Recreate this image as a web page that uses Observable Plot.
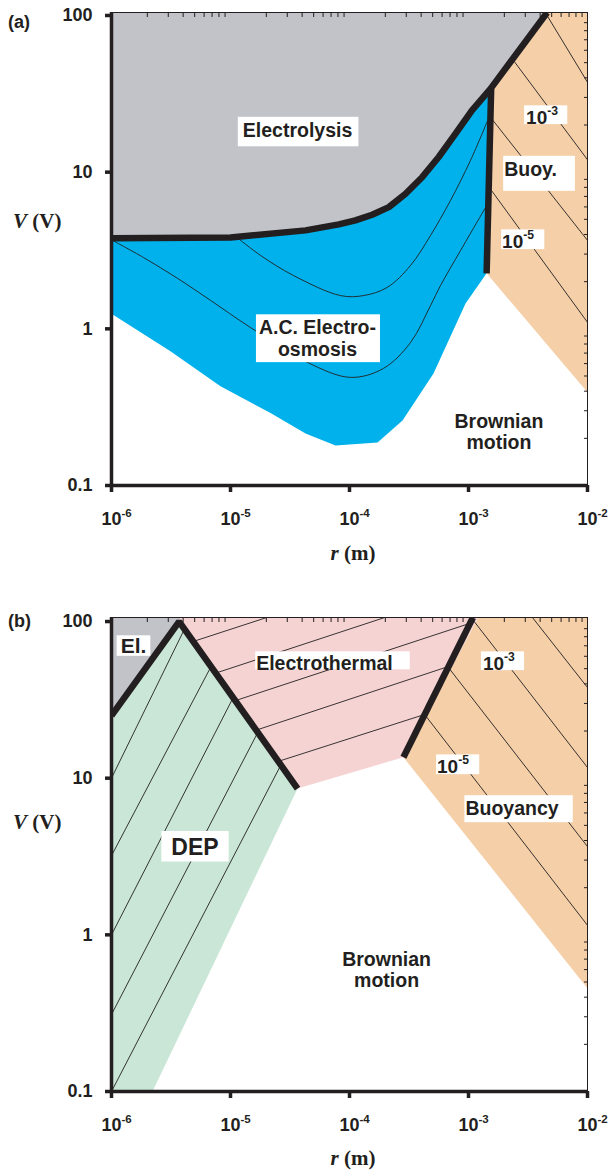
<!DOCTYPE html>
<html><head><meta charset="utf-8">
<script src="https://cdn.jsdelivr.net/npm/d3@7"></script>
<script src="https://cdn.jsdelivr.net/npm/@observablehq/plot@0.6"></script>
<style>
body{margin:0;background:#fff;}
#chart{width:610px;}
#chart svg{display:block;overflow:visible;}
.panel text{font-weight:700;}
</style></head><body><div id="chart"></div>
<script>
// ---------- axes ----------
const xTicks = [1e-6, 1e-5, 1e-4, 1e-3, 1e-2];
const xTickLabels = ["10^-6", "10^-5", "10^-4", "10^-3", "10^-2"];
const yTicks = [0.1, 1, 10, 100];
const yTickLabels = ["0.1", "1", "10", "100"];

// ---------- panel (a) : [r (m), V (V)] ----------
const aElectrolysisEdge = [[1e-6,3.78],[1e-5,3.83],[4.27e-5,4.25],[8.13e-5,4.64],[1.12e-4,4.92],[1.55e-4,5.35],[2.14e-4,5.98],[2.96e-4,7.28],[4.08e-4,9.29],[5.62e-4,12.5],[7.78e-4,17.6],[1.07e-3,24.8],[1.53e-3,34.0],[4.58e-3,104.5]];
const aBuoyancyEdge = [[1.55e-3,34.0],[1.42e-3,2.26]];
const aOsmosisLower = [[1e-6,1.25],[3.13e-6,0.72],[8.24e-6,0.43],[2.17e-5,0.29],[4.27e-5,0.215],[7.63e-5,0.180],[1.72e-4,0.188],[2.79e-4,0.260],[5.08e-4,0.519],[9.44e-4,1.45],[1.42e-3,2.26]];
const aBrownianCornerV = 0.393;
const aOsmosisContours = [
  [[1.15e-5,3.8],[1.79e-5,2.94],[3.38e-5,2.19],[8.4e-5,1.63],[1.31e-4,1.63],[2.08e-4,1.84],[3.26e-4,2.54],[4.8e-4,3.95],[7.06e-4,6.6],[1.04e-3,11.9],[1.45e-3,21.4]],
  [[1e-6,3.7],[1.86e-6,2.85],[3.59e-6,2.10],[6.79e-6,1.52],[1.47e-5,1.02],[4.44e-5,0.61],[1.02e-4,0.49],[1.93e-4,0.559],[3.26e-4,0.818],[4.8e-4,1.41],[5.82e-4,1.89],[8.57e-4,3.16],[1.39e-3,5.95]]
];
const aBuoyancyContours = [
  [[4.5e-3,102],[1e-2,37.5]],
  [[2.39e-3,51.6],[1e-2,12]],
  [[1.56e-3,22.0],[1e-2,3.67]],
  [[1.56e-3,7.64],[1e-2,1.10]]
];
const aLabels = [
  {text:"Electrolysis", r:3.66e-5, V:18.5},
  {text:"10^-3", r:4.15e-3, V:22.4},
  {text:"Buoy.", r:3.32e-3, V:10.5},
  {text:"10^-5", r:2.61e-3, V:3.62},
  {text:"A.C. Electro-\nosmosis", r:5.38e-5, V:0.871}
];
const aFreeLabels = [{text:"Brownian\nmotion", r:1.80e-3, V:0.220}];

// ---------- panel (b) ----------
const bDepEdge = [[1e-6,25.1],[3.7e-6,100],[3.66e-5,8.59]];
const bBuoyancyEdge = [[1.09e-3,106.1],[2.84e-4,13.6]];
const bGrayRegion = [[1e-6,106.1],[3.8e-6,106.1],[3.7e-6,100],[1e-6,25.1]];
const bDepRegion = [[1e-6,25.1],[3.7e-6,100],[3.66e-5,8.59],[2.21e-6,0.1],[1e-6,0.1]];
const bThermalRegion = [[3.8e-6,106.1],[1.21e-3,106.1],[2.84e-4,13.6],[3.66e-5,8.59],[3.7e-6,100]];
const bBuoyancyRegion = [[1.21e-3,106.1],[1e-2,106.1],[1e-2,0.455],[2.84e-4,13.6]];
const bDepContours = [
  [[1e-6,10],[4.06e-6,88]],
  [[1e-6,3.2],[6.9e-6,52]],
  [[1e-6,1],[1.06e-5,33]],
  [[1e-6,0.31],[1.69e-5,19.5]],
  [[1e-6,0.1],[2.63e-5,12]]
];
const bThermalContours = [
  [[4.84e-6,74.5],[2.01e-5,106]],
  [[7.48e-6,46.8],[1.97e-4,106]],
  [[1.09e-5,31.2],[1.02e-3,97.2]],
  [[1.69e-5,20.4],[6.76e-4,51.6]],
  [[2.52e-5,12.8],[4.34e-4,25.6]]
];
const bBuoyancyContours = [
  [[3.45e-3,106],[1e-2,37.9]],
  [[1.10e-3,101.5],[1e-2,11.7]],
  [[6.79e-4,50.8],[1e-2,3.66]],
  [[4.35e-4,25.1],[1e-2,1.15]]
];
const bLabels = [
  {text:"El.", r:1.53e-6, V:70.0},
  {text:"Electrothermal", r:6.16e-5, V:54.1},
  {text:"10^-3", r:1.80e-3, V:54.1},
  {text:"10^-5", r:7.41e-4, V:11.9},
  {text:"Buoyancy", r:2.32e-3, V:6.43},
  {text:"DEP", r:5.03e-6, V:3.65}
];
const bFreeLabels = [{text:"Brownian\nmotion", r:2.05e-4, V:0.598}];

// ---------- styles ----------
const INK = "#231f20";
const C = {gray:"#c1c3c9", blue:"#00b1eb", peach:"#f4cfa8", green:"#c9e6d6", pink:"#f6d3d3"};
const fontSizes = {"El.":21, "DEP":23, "10^-3":19, "10^-5":19};
const pads = { // left, top, right, bottom
  "Electrolysis":[5,2.5,6,5], "Buoy.":[1,2,18,11], "10-3":[2,-1,9,-4], "10-5":[1,-1,10,-3],
  "A.C. Electro-osmosis":[3,2,4,2], "Electrothermal":[1,1,17,-5], "El.":[4,-1,4,-1.5],
  "Buoyancy":[1,2,14,3], "DEP":[10,3,10,1.5]
};
const SANS = "'Liberation Sans', Arial, Helvetica, sans-serif";
const SERIF = "'Liberation Serif', 'Times New Roman', serif";

const minorX = [], minorY = [];
for (let k = -6; k < -2; k++) for (let m = 2; m < 10; m++) minorX.push(m * 10 ** k);
for (let k = -1; k < 2; k++) for (let m = 2; m < 10; m++) minorY.push(m * 10 ** k);

const X = d => d[0], Y = d => d[1];

function panel({H, mt, mb, ytop, fills, thin, thick, labels, free}) {
  const marks = [];
  for (const f of fills) marks.push(Plot.line(f.pts, {x: X, y: Y, fill: f.color, stroke: "none", clip: true}));
  for (const l of thin) marks.push(Plot.line(l.pts, {x: X, y: Y, stroke: INK, strokeWidth: 0.9, curve: l.curve || "linear", clip: true}));
  for (const l of thick) marks.push(Plot.line(l, {x: X, y: Y, stroke: INK, strokeWidth: 6.5, strokeLinecap: "butt", strokeLinejoin: "miter", clip: true}));
  marks.push(Plot.frame({stroke: INK, strokeWidth: 1}));
  marks.push(Plot.axisY({anchor: "right", ticks: minorY, tickSize: 4, dx: -4, tickFormat: () => "", label: null, stroke: INK}));
  marks.push(Plot.axisX({anchor: "top", ticks: minorX, tickSize: 4, dy: 4, tickFormat: () => "", label: null, stroke: INK}));
  marks.push(Plot.ruleX([1e-6], {stroke: INK, strokeWidth: 3.5}));
  marks.push(Plot.ruleY([0.1], {stroke: INK, strokeWidth: 3.5}));
  marks.push(Plot.axisX({anchor: "bottom", ticks: xTicks, tickFormat: d => xTickLabels[xTicks.indexOf(d)], tickSize: 7, tickPadding: 20, strokeWidth: 3.5, fontSize: 18, fontWeight: "bold", label: null, stroke: INK, fill: INK}));
  marks.push(Plot.axisY({anchor: "left", ticks: yTicks, tickFormat: d => yTickLabels[yTicks.indexOf(d)], tickSize: 6, tickPadding: 13, strokeWidth: 3.5, fontSize: 18, fontWeight: "bold", label: null, stroke: INK, fill: INK}));
  for (const lab of labels) marks.push(Plot.text([lab], {x: d => d.r, y: d => d.V, text: d => d.text, fontSize: fontSizes[lab.text] || 19.5, fontWeight: "bold", fill: INK, lineHeight: 1.12, ariaDescription: "region label"}));
  for (const lab of free) marks.push(Plot.text([lab], {x: d => d.r, y: d => d.V, text: d => d.text, fontSize: 19.5, fontWeight: "bold", fill: INK, lineHeight: 1.1, ariaDescription: "free label"}));
  return Plot.plot({
    width: 610, height: H, marginLeft: 111, marginRight: 23, marginTop: mt, marginBottom: mb,
    style: {fontFamily: SANS, background: "transparent", color: INK},
    x: {type: "log", domain: [1e-6, 1e-2]},
    y: {type: "log", domain: [0.1, ytop]},
    marks
  });
}

const aBlueRegion = [...aElectrolysisEdge.slice(0, 13), ...aOsmosisLower.slice().reverse()];
const aGrayRegion = [[1e-6,104.5], ...aElectrolysisEdge];
const aPeachRegion = [[4.58e-3,104.5],[1e-2,104.5],[1e-2,aBrownianCornerV],[1.42e-3,2.26],[1.53e-3,34.0]];

const svgA = panel({
  H: 600, mt: 12, mb: 115, ytop: 104.5,
  fills: [{pts: aGrayRegion, color: C.gray}, {pts: aBlueRegion, color: C.blue}, {pts: aPeachRegion, color: C.peach}],
  thin: [...aOsmosisContours.map(p => ({pts: p, curve: "catmull-rom"})), ...aBuoyancyContours.map(p => ({pts: p}))],
  thick: [aElectrolysisEdge, aBuoyancyEdge],
  labels: aLabels, free: aFreeLabels
});
const svgB = panel({
  H: 571, mt: 17, mb: 80, ytop: 106.1,
  fills: [{pts: bGrayRegion, color: C.gray}, {pts: bDepRegion, color: C.green}, {pts: bThermalRegion, color: C.pink}, {pts: bBuoyancyRegion, color: C.peach}],
  thin: [...bDepContours, ...bThermalContours, ...bBuoyancyContours].map(p => ({pts: p})),
  thick: [bDepEdge, bBuoyancyEdge],
  labels: bLabels, free: bFreeLabels
});
svgA.classList.add("panel"); svgB.classList.add("panel");
const chart = document.getElementById("chart");
chart.append(svgA, svgB);

const ns = "http://www.w3.org/2000/svg";
const isAxisText = t => !!t.closest('g[aria-label*="axis"]');
function boxes(root) {
  root.querySelectorAll("text").forEach(t => {
    if (isAxisText(t)) return;
    const key = t.textContent.replace("^", "");
    const p = pads[key];
    if (!p) return;
    const bb = t.getBBox();
    const r = document.createElementNS(ns, "rect");
    r.setAttribute("x", bb.x - p[0]); r.setAttribute("y", bb.y - p[1]);
    r.setAttribute("width", bb.width + p[0] + p[2]); r.setAttribute("height", bb.height + p[1] + p[3]);
    r.setAttribute("fill", "#ffffff"); r.setAttribute("stroke", "none");
    const tr = t.getAttribute("transform"); if (tr) r.setAttribute("transform", tr);
    t.parentNode.insertBefore(r, t);
  });
}
function supify(root) {
  root.querySelectorAll("text").forEach(t => {
    if (t.querySelector("tspan")) return;
    const s = t.textContent, i = s.indexOf("^");
    if (i < 0) return;
    t.textContent = "";
    const b = document.createElementNS(ns, "tspan"); b.textContent = s.slice(0, i);
    const e = document.createElementNS(ns, "tspan"); e.textContent = s.slice(i + 1);
    e.setAttribute("font-size", "0.64em"); e.setAttribute("dy", "-0.72em");
    t.append(b, e);
  });
}
function fixXTicks(root) {
  root.querySelectorAll("text").forEach(t => {
    if (!t.closest('g[aria-label*="x-axis"]')) return;
    const b = t.querySelector("tspan"); if (!b) return;
    const wt = t.getComputedTextLength(), wb = b.getComputedTextLength();
    b.setAttribute("dx", (wt - wb) / 2);
  });
}
function extras(svg, tag, vy, ry) {
  const s = d3.select(svg);
  s.append("text").attr("x", 8).attr("y", tag.y).attr("text-anchor", "start").attr("font-family", SANS).attr("font-size", 18).attr("font-weight", 700).attr("fill", INK).text(tag.text);
  const v = s.append("text").attr("x", 13).attr("y", vy).attr("text-anchor", "start").attr("font-family", SERIF).attr("font-size", 21).attr("font-weight", 700).attr("fill", INK);
  v.append("tspan").attr("font-style", "italic").text("V");
  v.append("tspan").text(" (V)");
  const r = s.append("text").attr("x", 353).attr("y", ry).attr("text-anchor", "middle").attr("font-family", SERIF).attr("font-size", 21).attr("font-weight", 700).attr("fill", INK);
  r.append("tspan").attr("font-style", "italic").text("r");
  r.append("tspan").text(" (m)");
}
for (const svg of [svgA, svgB]) { supify(svg); boxes(svg); fixXTicks(svg); }
extras(svgA, {text: "(a)", y: 28}, 228, 560);
extras(svgB, {text: "(b)", y: 27}, 229, 565);
</script>
</body></html>
